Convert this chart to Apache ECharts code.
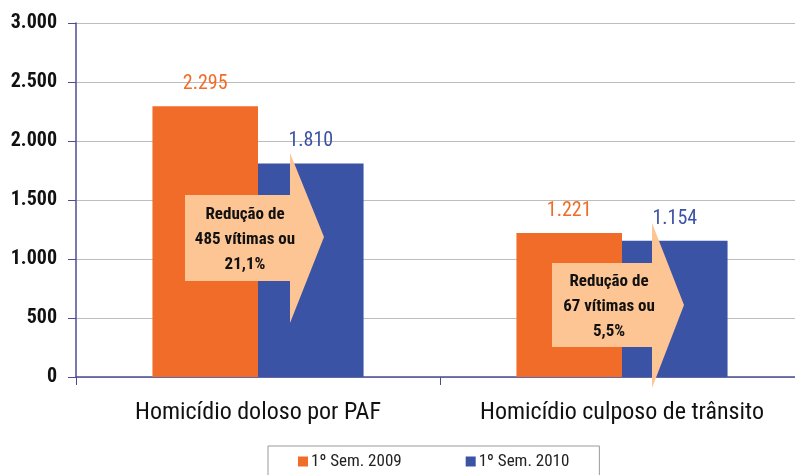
<!DOCTYPE html>
<html>
<head>
<meta charset="utf-8">
<script src="https://cdn.jsdelivr.net/npm/echarts@6/dist/echarts.min.js"></script>
<style>
  html, body { margin: 0; padding: 0; background: #fff; }
  #chart { width: 795px; height: 475px; }
</style>
</head>
<body>
<div id="chart"></div>
<script>
const categories = ['Homicídio doloso por PAF', 'Homicídio culposo de trânsito']
const seriesNames = ['1º Sem. 2009', '1º Sem. 2010']
const sem2009 = [2295, 1221]
const sem2010 = [1810, 1154]
const notes = [
  ['Redução de', '485 vítimas ou', '21,1%'],
  ['Redução de', '67 vítimas ou', '5,5%']
]

const FONT = '"Liberation Sans Narrow", "Roboto Condensed", "Liberation Sans", sans-serif'
const ORANGE = '#F26C29'
const BLUE = '#3A53A4'
const AXIS = '#4C4C96'

const fmt = v => String(v).replace(/\B(?=(\d{3})+(?!\d))/g, '.')

const chart = echarts.init(document.getElementById('chart'))

function barSeries(name, data, color) {
  return {
    name: name,
    type: 'bar',
    data: data,
    barGap: 0,
    barCategoryGap: '42%',
    itemStyle: { color: color },
    label: {
      show: true,
      position: 'top',
      distance: 12,
      color: color,
      fontFamily: FONT,
      fontSize: 20,
      formatter: p => fmt(p.value)
    },
    z: 2
  }
}

chart.setOption({
  animation: false,
  textStyle: { fontFamily: FONT },
  grid: { left: 76, top: 23, width: 728, height: 354, outerBoundsMode: 'none' },
  legend: {
    left: 268,
    top: 446,
    padding: [7, 30, 12, 30],
    itemGap: 64,
    itemWidth: 10,
    itemHeight: 10,
    borderColor: '#999',
    borderWidth: 1,
    icon: 'rect',
    textStyle: { fontFamily: FONT, fontSize: 17, color: '#222', padding: [0, 0, 0, -2] },
    data: seriesNames
  },
  xAxis: {
    type: 'category',
    data: categories,
    axisLine: { lineStyle: { color: AXIS, width: 1.5 } },
    axisTick: { show: true, interval: 0, length: 8, lineStyle: { color: AXIS } },
    axisLabel: { interval: 0, hideOverlap: false, color: '#111', fontSize: 24, fontFamily: FONT, margin: 24 }
  },
  yAxis: {
    type: 'value',
    min: 0,
    max: 3000,
    interval: 500,
    axisLine: { show: true, lineStyle: { color: AXIS, width: 1.5 } },
    axisTick: { show: true, length: 8, lineStyle: { color: AXIS } },
    axisLabel: {
      color: '#111',
      fontSize: 20,
      fontWeight: 'bold',
      fontFamily: FONT,
      margin: 19,
      formatter: v => fmt(v)
    },
    splitLine: { lineStyle: { color: '#BDBDBD', width: 1.2 } }
  },
  series: [
    barSeries(seriesNames[0], sem2009, ORANGE),
    barSeries(seriesNames[1], sem2010, BLUE)
  ]
})

// arrow annotations, positioned relative to each category centre
const arrowShapes = [
  { bodyL: -73, bodyR: 32, tip: 66, bodyTop: 195, bodyBot: 281, headTop: 153, headBot: 323, tipY: 237, textX: -13, textY: 240 },
  { bodyL: -70, bodyR: 30, tip: 62, bodyTop: 263, bodyBot: 347, headTop: 223, headBot: 388, tipY: 305, textX: -13, textY: 307 }
]

const graphics = []
categories.forEach((c, i) => {
  const cx = chart.convertToPixel({ xAxisIndex: 0 }, c)
  const s = arrowShapes[i]
  graphics.push({
    type: 'polygon',
    z: 10,
    shape: {
      points: [
        [cx + s.bodyL, s.bodyTop],
        [cx + s.bodyR, s.bodyTop],
        [cx + s.bodyR, s.headTop],
        [cx + s.tip, s.tipY],
        [cx + s.bodyR, s.headBot],
        [cx + s.bodyR, s.bodyBot],
        [cx + s.bodyL, s.bodyBot]
      ]
    },
    style: { fill: '#FDC593' }
  })
  graphics.push({
    type: 'text',
    z: 11,
    x: cx + s.textX,
    y: s.textY,
    style: {
      text: notes[i].join('\n'),
      fill: '#111',
      font: 'bold 17px ' + FONT,
      lineHeight: 25,
      align: 'center',
      verticalAlign: 'middle'
    }
  })
})
chart.setOption({ graphic: graphics })
</script>
</body>
</html>
